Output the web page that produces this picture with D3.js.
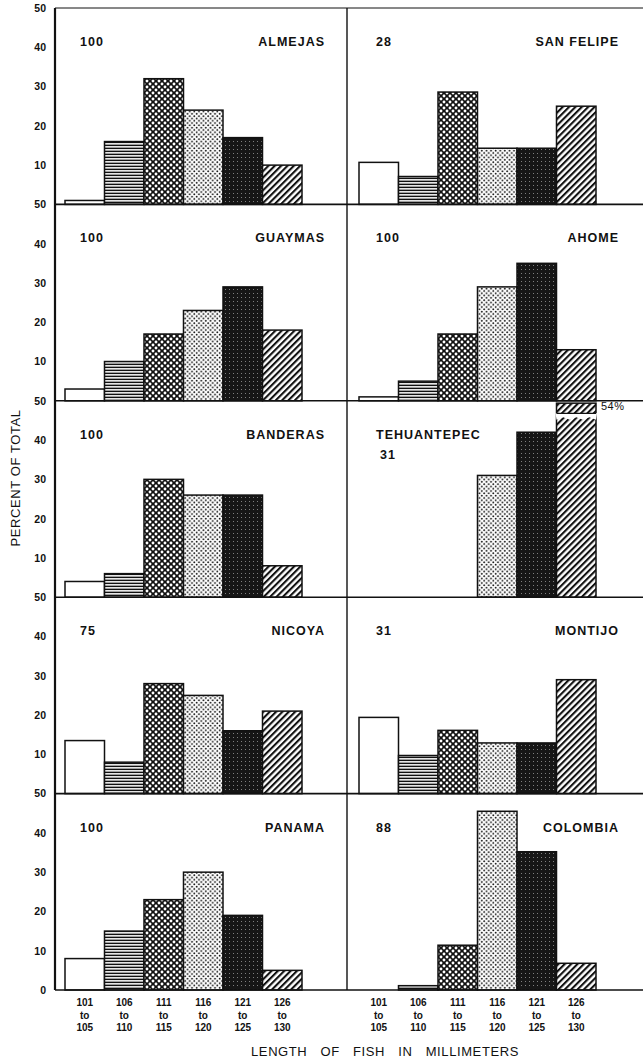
<!DOCTYPE html>
<html>
<head>
<meta charset="utf-8">
<title>Length of fish in millimeters</title>
<script src="https://cdn.jsdelivr.net/npm/d3@7/dist/d3.min.js"></script>
<style>
  html, body { margin: 0; padding: 0; background: #fff; }
  svg { display: block; font-family: "Liberation Sans", Arial, sans-serif; }
  .tick-label { font-size: 10.5px; font-weight: bold; fill: #111; }
  .panel-count, .panel-name { font-size: 12.5px; font-weight: bold; fill: #111; letter-spacing: 1px; }
  .axis-title { font-size: 13px; fill: #111; letter-spacing: 0.6px; }
</style>
</head>
<body>
<svg id="chart" width="643" height="1063"></svg>
<script>
// Length classes shared by every panel.
const lengthBins = ["101-105", "106-110", "111-115", "116-120", "121-125", "126-130"];
const binLabels = [["101", "to", "105"], ["106", "to", "110"], ["111", "to", "115"],
  ["116", "to", "120"], ["121", "to", "125"], ["126", "to", "130"]];
const yTicks = [10, 20, 30, 40, 50];

// Stations, in reading order (left column, right column, row by row).
const stationNames = ["ALMEJAS", "SAN FELIPE", "GUAYMAS", "AHOME", "BANDERAS",
  "TEHUANTEPEC", "NICOYA", "MONTIJO", "PANAMA", "COLOMBIA"];
const sampleSizes = [100, 28, 100, 100, 100, 31, 75, 31, 100, 88];

// Percent of total in each length class.
const almejas = [1, 16, 32, 24, 17, 10];
const sanFelipe = [10.7, 7.1, 28.6, 14.3, 14.3, 25];
const guaymas = [3, 10, 17, 23, 29, 18];
const ahome = [1, 5, 17, 29, 35, 13];
const banderas = [4, 6, 30, 26, 26, 8];
const tehuantepec = [0, 0, 0, 31, 42, 54];
const nicoya = [13.5, 8, 28, 25, 16, 21];
const montijo = [19.4, 9.7, 16.1, 12.9, 12.9, 29];
const panama = [8, 15, 23, 30, 19, 5];
const colombia = [0, 1.1, 11.4, 45.5, 35.2, 6.8];

const stationValues = [almejas, sanFelipe, guaymas, ahome, banderas,
  tehuantepec, nicoya, montijo, panama, colombia];

const svg = d3.select("#chart");
const width = 643;
const plotTop = 8;
const plotBottom = 990;
const axisX = 55;
const dividerX = 347;
const rowCount = 5;
const rowHeight = (plotBottom - plotTop) / rowCount;
const yMax = 50;

// Column layouts: where the bars sit and where the texts go.
const columns = [
  { barRange: [65, 302], countX: 80, nameX: 325 },
  { barRange: [359, 596], countX: 376, nameX: 619 }
];
const patternIds = ["pat-open", "pat-hlines", "pat-cross", "pat-dots", "pat-dark", "pat-hatch"];

// Fill patterns imitating the original screen tints.
function buildPatterns() {
  const defs = svg.append("defs");

  const hl = defs.append("pattern").attr("id", "pat-hlines")
    .attr("patternUnits", "userSpaceOnUse").attr("width", 8).attr("height", 3);
  hl.append("rect").attr("width", 8).attr("height", 3).attr("fill", "#fff");
  hl.append("rect").attr("y", 0.6).attr("width", 8).attr("height", 1.5).attr("fill", "#111");

  const cr = defs.append("pattern").attr("id", "pat-cross")
    .attr("patternUnits", "userSpaceOnUse").attr("width", 6).attr("height", 6);
  cr.append("rect").attr("width", 6).attr("height", 6).attr("fill", "#111");
  [[0, 0], [6, 0], [0, 6], [6, 6], [3, 3]].forEach(function addHole(p) {
    cr.append("circle").attr("cx", p[0]).attr("cy", p[1]).attr("r", 1.45).attr("fill", "#fff");
  });

  const dt = defs.append("pattern").attr("id", "pat-dots")
    .attr("patternUnits", "userSpaceOnUse").attr("width", 4.6).attr("height", 4.6);
  dt.append("rect").attr("width", 4.6).attr("height", 4.6).attr("fill", "#fff");
  [[1.15, 1.15], [3.45, 3.45]].forEach(function addDot(p) {
    dt.append("circle").attr("cx", p[0]).attr("cy", p[1]).attr("r", 0.95).attr("fill", "#111");
  });

  const dk = defs.append("pattern").attr("id", "pat-dark")
    .attr("patternUnits", "userSpaceOnUse").attr("width", 4).attr("height", 4);
  dk.append("rect").attr("width", 4).attr("height", 4).attr("fill", "#161616");
  dk.append("rect").attr("x", 1).attr("y", 1).attr("width", 0.8).attr("height", 0.8).attr("fill", "#bbb");

  const ht = defs.append("pattern").attr("id", "pat-hatch")
    .attr("patternUnits", "userSpaceOnUse").attr("width", 4.5).attr("height", 4.5)
    .attr("patternTransform", "rotate(45)");
  ht.append("rect").attr("width", 4.5).attr("height", 4.5).attr("fill", "#fff");
  ht.append("rect").attr("width", 2.1).attr("height", 4.5).attr("fill", "#111");
}

function fillFor(i) {
  return i === 0 ? "#fff" : "url(#" + patternIds[i] + ")";
}

// Draws one station panel: bars, sample size and station name.
function drawPanel(index) {
  const row = Math.floor(index / 2);
  const col = index % 2;
  const layout = columns[col];
  const top = plotTop + row * rowHeight;
  const base = top + rowHeight;
  const values = stationValues[index];

  const x = d3.scaleBand().domain(lengthBins).range(layout.barRange).padding(0);
  const y = d3.scaleLinear().domain([0, yMax]).range([base, top]);

  const g = svg.append("g").attr("class", "panel");

  g.selectAll("rect.bar")
    .data(values.map(function toDatum(v, i) { return { bin: lengthBins[i], value: v, i: i }; })
      .filter(function hasValue(d) { return d.value > 0; }))
    .enter()
    .append("rect")
    .attr("class", "bar")
    .attr("x", function barX(d) { return x(d.bin); })
    .attr("y", function barY(d) { return y(Math.min(d.value, yMax - 0.6)); })
    .attr("width", x.bandwidth())
    .attr("height", function barH(d) { return y(0) - y(Math.min(d.value, yMax - 0.6)); })
    .attr("fill", function barFill(d) { return fillFor(d.i); })
    .attr("stroke", "#111")
    .attr("stroke-width", 1.5);

  // Off-scale bar: break it and print its value.
  values.forEach(function markOverflow(v, i) {
    if (v <= yMax) return;
    const bx = x(lengthBins[i]);
    const bw = x.bandwidth();
    const yCap = y(46.8);
    const yBreak = y(45.2);
    const zig = [[bx - 1, yCap]];
    zig.push([bx + bw + 1, yCap]);
    const steps = 6;
    for (let s = steps; s >= 0; s--) {
      zig.push([bx + (bw * s) / steps, yBreak + (s % 2 === 0 ? 0 : -2.5)]);
    }
    g.append("polygon").attr("points", zig.map(function pt(p) { return p.join(","); }).join(" "))
      .attr("fill", "#fff");
    g.append("line").attr("x1", bx).attr("x2", bx + bw).attr("y1", yCap).attr("y2", yCap)
      .attr("stroke", "#111").attr("stroke-width", 1.4);
    g.append("text").attr("class", "panel-count").attr("x", bx + bw + 5).attr("y", y(47.6))
      .style("font-size", "11px").style("font-weight", "normal").style("letter-spacing", "0.5px")
      .text(v + "%");
  });

  if (stationNames[index] === "TEHUANTEPEC") {
    g.append("text").attr("class", "panel-name").attr("x", layout.countX).attr("y", top + 38)
      .text(stationNames[index]);
    g.append("text").attr("class", "panel-count").attr("x", layout.countX + 4).attr("y", top + 58)
      .text(sampleSizes[index]);
  } else {
    g.append("text").attr("class", "panel-count").attr("x", layout.countX).attr("y", top + 38)
      .text(sampleSizes[index]);
    g.append("text").attr("class", "panel-name").attr("x", layout.nameX).attr("y", top + 38)
      .attr("text-anchor", "end").text(stationNames[index]);
  }

  // Left tick labels for this row (one per row, shared by both columns).
  if (col === 0) {
    const axis = g.append("g").attr("transform", "translate(" + axisX + ",0)")
      .call(d3.axisLeft(y).tickValues(row === rowCount - 1 ? [0].concat(yTicks) : yTicks)
        .tickSize(0).tickPadding(9));
    axis.select(".domain").remove();
    axis.selectAll("text").attr("class", "tick-label").attr("font-family", null).attr("font-size", null);
  }

  // Length class labels under the bottom row.
  if (row === rowCount - 1) {
    const xAxis = g.append("g").attr("transform", "translate(0," + (base + 4) + ")")
      .call(d3.axisBottom(x).tickSize(0).tickPadding(0).tickFormat(""));
    xAxis.select(".domain").remove();
    xAxis.selectAll(".tick text").each(function splitLabel(d) {
      const t = d3.select(this).attr("class", "tick-label").attr("font-family", null)
        .attr("font-size", null).attr("dy", null).style("font-size", "10px");
      binLabels[lengthBins.indexOf(d)].forEach(function addLine(line, k) {
        t.append("tspan").attr("x", 0).attr("y", 12 + k * 12.5).text(line);
      });
    });
  }
}

buildPatterns();

// Frame: top edge, row baselines, left axis and column divider.
const frame = svg.append("g").attr("stroke", "#111").attr("fill", "none");
frame.append("line").attr("x1", axisX).attr("x2", width).attr("y1", plotTop).attr("y2", plotTop)
  .attr("stroke-width", 1);
d3.range(1, rowCount + 1).forEach(function rowLine(r) {
  const yy = plotTop + r * rowHeight;
  frame.append("line").attr("x1", axisX).attr("x2", width).attr("y1", yy).attr("y2", yy)
    .attr("stroke-width", 1.6);
});

d3.range(stationNames.length).forEach(drawPanel);

frame.raise();
frame.append("line").attr("x1", axisX).attr("x2", axisX).attr("y1", plotTop).attr("y2", plotBottom)
  .attr("stroke-width", 2.2);
frame.append("line").attr("x1", dividerX).attr("x2", dividerX).attr("y1", plotTop).attr("y2", plotBottom)
  .attr("stroke-width", 1.4);

// Axis titles.
svg.append("text").attr("class", "axis-title")
  .attr("transform", "translate(20," + 478 + ") rotate(-90)")
  .attr("text-anchor", "middle").text("PERCENT OF TOTAL");
svg.append("text").attr("class", "axis-title")
  .attr("x", 385).attr("y", 1056).attr("text-anchor", "middle")
  .style("word-spacing", "9px").text("LENGTH OF FISH IN MILLIMETERS");
</script>
</body>
</html>
